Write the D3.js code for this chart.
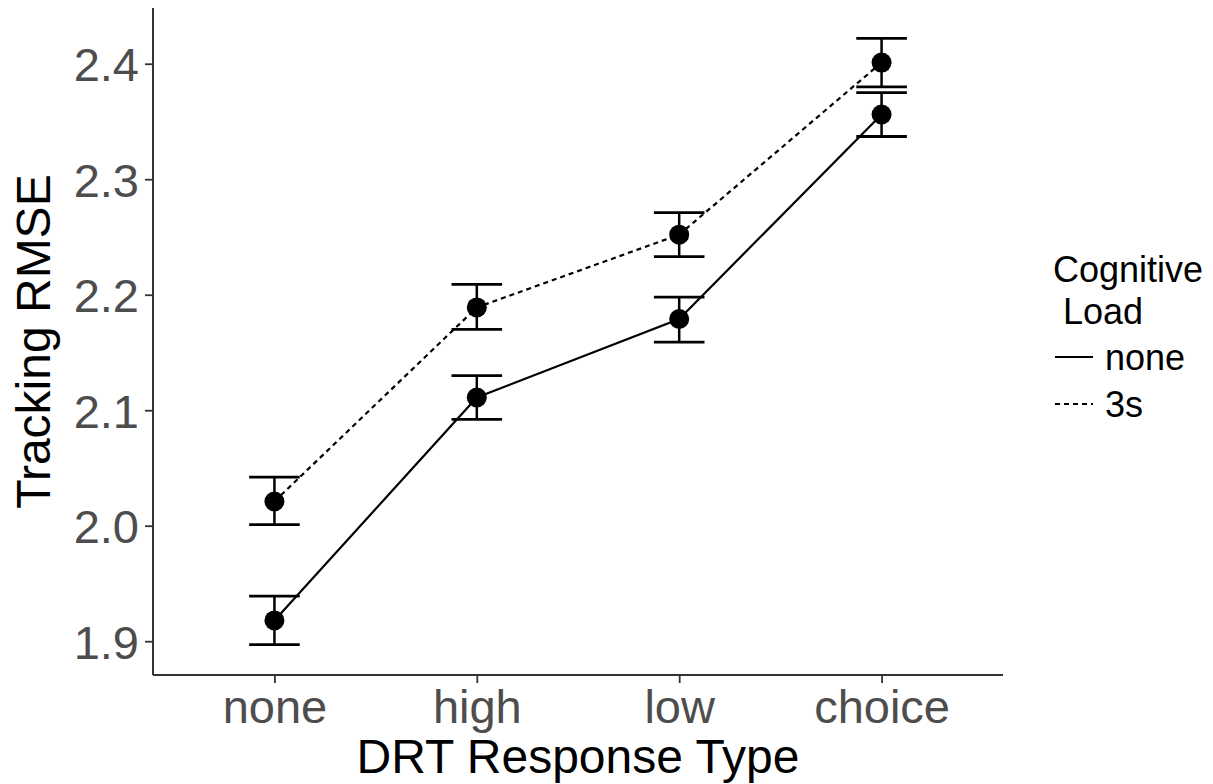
<!DOCTYPE html>
<html><head><meta charset="utf-8">
<script src="https://cdn.jsdelivr.net/npm/d3@7"></script>
<style>body{margin:0;background:#fff}svg{display:block}text{font-family:"Liberation Sans",Arial,sans-serif}</style>
</head><body>
<svg id="c" width="1213" height="784"></svg>
<script>
const categories = ["none","high","low","choice"];
const loads = ["none","3s"];
const meanNone = [1.918, 2.111, 2.179, 2.356];
const lowNone  = [1.897, 2.092, 2.159, 2.337];
const highNone = [1.939, 2.130, 2.198, 2.375];
const mean3s   = [2.021, 2.189, 2.252, 2.401];
const low3s    = [2.001, 2.170, 2.233, 2.380];
const high3s   = [2.042, 2.209, 2.271, 2.422];
const yTicks = [1.9, 2.0, 2.1, 2.2, 2.3, 2.4];

const svg = d3.select("#c");
const L = 153, R = 1003, T = 8, B = 675;
const x = d3.scalePoint().domain(categories).range([L, R]).padding(0.6);
const ymin = d3.min(lowNone.concat(low3s)), ymax = d3.max(highNone.concat(high3s));
const pad = (ymax - ymin) * 0.05;
const y = d3.scaleLinear().domain([ymin - pad, ymax + pad]).range([B, T]);
const step = x.step();
const axisCol = "#333";

// axes
const gy = svg.append("g").attr("transform", `translate(${L},0)`)
  .call(d3.axisLeft(y).tickValues(yTicks).tickFormat(d3.format(".1f")).tickSize(8).tickPadding(6));
const gx = svg.append("g").attr("transform", `translate(0,${B})`)
  .call(d3.axisBottom(x).tickSize(8).tickPadding(6));
[gx, gy].forEach(g => {
  g.select(".domain").remove();
  g.selectAll(".tick line").attr("stroke", axisCol).attr("stroke-width", 1.8);
  g.selectAll(".tick text").attr("fill", "#4d4d4d").style("font-size", "47px").attr("font-family", null);
});
gy.selectAll(".tick text").attr("dy", "0.36em");
gx.selectAll(".tick text").attr("y", 48).attr("dy", null);
svg.append("line").attr("x1", L).attr("x2", L).attr("y1", T).attr("y2", B).attr("stroke", axisCol).attr("stroke-width", 2);
svg.append("line").attr("x1", L).attr("x2", R).attr("y1", B).attr("y2", B).attr("stroke", axisCol).attr("stroke-width", 2);

// titles
svg.append("text").attr("x", (L + R) / 2).attr("y", 773).attr("text-anchor", "middle")
  .style("font-size", "48px").attr("fill", "#000").text("DRT Response Type");
svg.append("text").attr("transform", `translate(50,${(T + B) / 2}) rotate(-90)`).attr("text-anchor", "middle")
  .style("font-size", "48px").attr("fill", "#000").text("Tracking RMSE");

const series = [
  {key: "none", mean: meanNone, lo: lowNone, hi: highNone, dash: null},
  {key: "3s", mean: mean3s, lo: low3s, hi: high3s, dash: "5,4"}
];
const line = d3.line().x((d, i) => x(categories[i])).y(d => y(d));
const cap = step * 0.125;
series.forEach(s => {
  const g = svg.append("g");
  g.append("path").attr("d", line(s.mean)).attr("fill", "none").attr("stroke", "#000")
    .attr("stroke-width", 2.2).attr("stroke-dasharray", s.dash);
  categories.forEach((c, i) => {
    const cx = x(c);
    g.append("line").attr("x1", cx).attr("x2", cx).attr("y1", y(s.lo[i])).attr("y2", y(s.hi[i])).attr("stroke", "#000").attr("stroke-width", 2.5);
    g.append("line").attr("x1", cx - cap).attr("x2", cx + cap).attr("y1", y(s.lo[i])).attr("y2", y(s.lo[i])).attr("stroke", "#000").attr("stroke-width", 2.8);
    g.append("line").attr("x1", cx - cap).attr("x2", cx + cap).attr("y1", y(s.hi[i])).attr("y2", y(s.hi[i])).attr("stroke", "#000").attr("stroke-width", 2.8);
    g.append("circle").attr("cx", cx).attr("cy", y(s.mean[i])).attr("r", 10).attr("fill", "#000");
  });
});

// legend
const lg = svg.append("g");
const lx = 1053;
lg.append("text").attr("x", lx).attr("y", 282).style("font-size", "36px").attr("fill", "#000").text("Cognitive");
lg.append("text").attr("x", lx).attr("y", 324).style("font-size", "36px").attr("fill", "#000").attr("xml:space", "preserve").text(" Load");
loads.forEach((k, i) => {
  const yy = 357 + i * 47;
  lg.append("line").attr("x1", lx + 2).attr("x2", lx + 40).attr("y1", yy).attr("y2", yy).attr("stroke", "#000").attr("stroke-width", 2.2)
    .attr("stroke-dasharray", series[i].dash);
  lg.append("text").attr("x", lx + 52).attr("y", yy + 13).style("font-size", "36px").attr("fill", "#000").text(k);
});
</script>
</body></html>
